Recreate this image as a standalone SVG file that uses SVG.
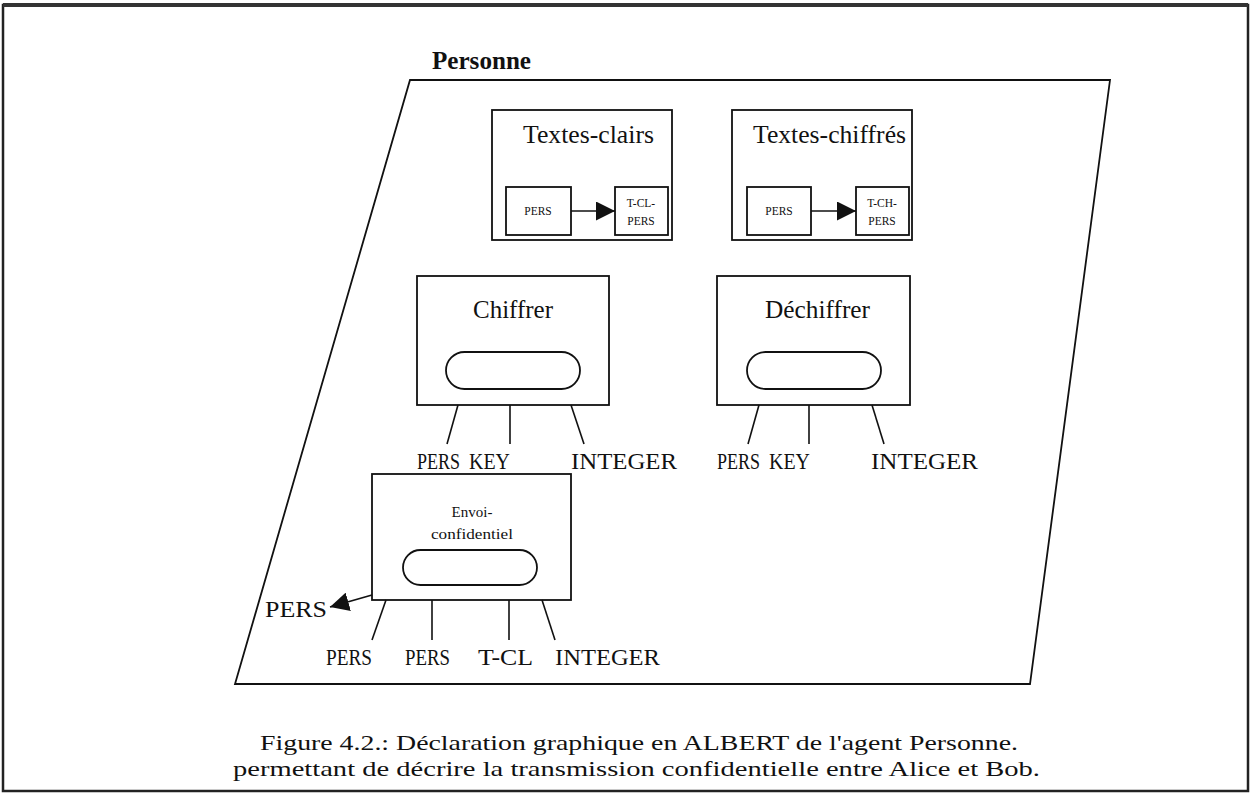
<svg xmlns="http://www.w3.org/2000/svg" width="1251" height="795" viewBox="0 0 1251 795">
<defs>
<style>
text{font-family:"Liberation Serif","Times New Roman",serif;fill:#111}
.b{fill:#fff;stroke:#111;stroke-width:1.8}
.l{stroke:#111;stroke-width:1.6;fill:none}
.t{font-size:25px}
.p{font-size:24px}
.s{font-size:11.5px;text-anchor:middle}
</style>
<marker id="ah2" viewBox="0 0 10 10" refX="10" refY="5" markerWidth="19" markerHeight="19" markerUnits="userSpaceOnUse" orient="auto"><path d="M0,0L10,5L0,10z" fill="#111"/></marker>
</defs>
<rect x="0" y="0" width="1251" height="795" fill="#fff"/>
<rect x="3" y="5" width="1245" height="786" fill="none" stroke="#222" stroke-width="2.5"/>
<line x1="3" y1="5" x2="1248" y2="5" stroke="#333" stroke-width="4"/>
<g id="personne">
<text x="432" y="69" style="font-size:25px;font-weight:bold" textLength="99" lengthAdjust="spacingAndGlyphs">Personne</text>
<polygon points="410,80 1110,80 1030,684 235,684" fill="none" stroke="#111" stroke-width="1.8"/>
</g>
<g id="textes-clairs">
<rect class="b" x="492" y="110" width="180" height="130"/>
<text class="t" x="523" y="143" textLength="131" lengthAdjust="spacingAndGlyphs">Textes-clairs</text>
<rect class="b" x="506" y="187" width="65" height="48"/>
<text class="s" x="538" y="215">PERS</text>
<rect class="b" x="615" y="187" width="53" height="48"/>
<text class="s" x="641" y="207">T-CL-</text>
<text class="s" x="641" y="225">PERS</text>
</g>
<g id="textes-chiffres">
<rect class="b" x="732" y="110" width="180" height="130"/>
<text class="t" x="753" y="143" textLength="153" lengthAdjust="spacingAndGlyphs">Textes-chiffrés</text>
<rect class="b" x="747" y="187" width="64" height="48"/>
<text class="s" x="779" y="215">PERS</text>
<rect class="b" x="856" y="187" width="53" height="48"/>
<text class="s" x="882" y="207">T-CH-</text>
<text class="s" x="882" y="225">PERS</text>
</g>
<g id="chiffrer">
<rect class="b" x="417" y="276" width="192" height="129"/>
<text class="t" x="473" y="318" textLength="80" lengthAdjust="spacingAndGlyphs">Chiffrer</text>
<rect class="b" x="446" y="352" width="134" height="37" rx="18.5"/>
</g>
<g id="dechiffrer">
<rect class="b" x="717" y="276" width="193" height="129"/>
<text class="t" x="765" y="318" textLength="105" lengthAdjust="spacingAndGlyphs">Déchiffrer</text>
<rect class="b" x="747" y="352" width="134" height="37" rx="18.5"/>
</g>
<g id="envoi-confidentiel">
<rect class="b" x="372" y="474" width="199" height="126"/>
<text x="472" y="517" style="font-size:15px;text-anchor:middle">Envoi-</text>
<text x="472" y="539" style="font-size:15px;text-anchor:middle" textLength="82" lengthAdjust="spacingAndGlyphs">confidentiel</text>
<rect class="b" x="403" y="550" width="134" height="35" rx="17.5"/>
</g>
<g id="connectors">
<line class="l" x1="571" y1="211" x2="615" y2="211" marker-end="url(#ah2)"/>
<line class="l" x1="811" y1="211" x2="856" y2="211" marker-end="url(#ah2)"/>
<line class="l" x1="458" y1="405" x2="447" y2="444"/>
<line class="l" x1="510" y1="405" x2="510" y2="444"/>
<line class="l" x1="571" y1="405" x2="584" y2="444"/>
<line class="l" x1="759" y1="405" x2="748" y2="444"/>
<line class="l" x1="809" y1="405" x2="809" y2="444"/>
<line class="l" x1="872" y1="405" x2="884" y2="444"/>
<line class="l" x1="386" y1="600" x2="372" y2="640"/>
<line class="l" x1="432" y1="600" x2="432" y2="640"/>
<line class="l" x1="509" y1="600" x2="509" y2="640"/>
<line class="l" x1="542" y1="600" x2="555" y2="640"/>
<line class="l" x1="372" y1="595" x2="330" y2="607" marker-end="url(#ah2)"/>
</g>
<g id="labels">
<text class="p" transform="translate(417,469) scale(0.75,1)">PERS</text>
<text class="p" transform="translate(469,469) scale(0.83,1)">KEY</text>
<text class="p" x="571" y="469" textLength="106" lengthAdjust="spacingAndGlyphs">INTEGER</text>
<text class="p" transform="translate(717,469) scale(0.75,1)">PERS</text>
<text class="p" transform="translate(769,469) scale(0.83,1)">KEY</text>
<text class="p" x="871" y="469" textLength="107" lengthAdjust="spacingAndGlyphs">INTEGER</text>
<text class="p" x="265" y="617" textLength="62" lengthAdjust="spacingAndGlyphs">PERS</text>
<text class="p" x="326" y="665" textLength="46" lengthAdjust="spacingAndGlyphs">PERS</text>
<text class="p" x="405" y="665" textLength="45" lengthAdjust="spacingAndGlyphs">PERS</text>
<text class="p" x="478" y="665" textLength="55" lengthAdjust="spacingAndGlyphs">T-CL</text>
<text class="p" x="555" y="665" textLength="105" lengthAdjust="spacingAndGlyphs">INTEGER</text>
</g>
<g id="caption">
<text x="260" y="750" style="font-size:22px" textLength="758" lengthAdjust="spacingAndGlyphs">Figure 4.2.: Déclaration graphique en ALBERT de l'agent Personne.</text>
<text x="233" y="776" style="font-size:22px" textLength="807" lengthAdjust="spacingAndGlyphs">permettant de décrire la transmission confidentielle entre Alice et Bob.</text>
</g>
</svg>
